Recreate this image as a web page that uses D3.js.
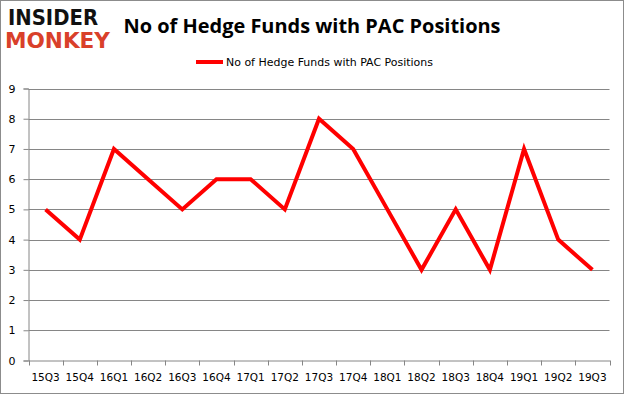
<!DOCTYPE html>
<html><head><meta charset="utf-8">
<script src="https://cdn.jsdelivr.net/npm/d3@7/dist/d3.min.js"></script>
<style>html,body{margin:0;padding:0;background:#fff;}svg{display:block;}</style>
</head><body>
<svg id="c" width="625" height="395"></svg>
<script>
const categories = ["15Q3","15Q4","16Q1","16Q2","16Q3","16Q4","17Q1","17Q2","17Q3","17Q4","18Q1","18Q2","18Q3","18Q4","19Q1","19Q2","19Q3"];
const hedgeFunds = [5,4,7,6,5,6,6,5,8,7,5,3,5,3,7,4,3];
const yTicks = [0,1,2,3,4,5,6,7,8,9];
const titleText = "No of Hedge Funds with PAC Positions";
const seriesName = "No of Hedge Funds with PAC Positions";

const svg = d3.select("#c");
const W = 625, H = 395;
const m = {left: 28.5, right: 609.5, top: 88.5, bottom: 360.5};

svg.append("rect").attr("x",0.5).attr("y",0.5).attr("width",W-2).attr("height",H-2)
  .attr("fill","#fff").attr("stroke","#8c8c8c").attr("stroke-width",1);

const x = d3.scaleBand().domain(categories).range([m.left, m.right]).padding(0);
const y = d3.scaleLinear().domain([0,9]).range([m.bottom, m.top]);

// gridlines
svg.append("g").selectAll("line").data(yTicks.filter(d=>d>0)).join("line")
  .attr("x1", m.left).attr("x2", m.right)
  .attr("y1", d=>Math.round(y(d))+0.5).attr("y2", d=>Math.round(y(d))+0.5)
  .attr("stroke","#868686").attr("stroke-width",1);

// y axis
const yAxis = svg.append("g").attr("transform",`translate(${m.left},0)`)
  .call(d3.axisLeft(y).tickValues(yTicks).tickSize(5).tickPadding(8).tickFormat(d3.format("d")));
yAxis.select(".domain").attr("stroke","#868686");
yAxis.selectAll(".tick line").attr("stroke","#868686");
yAxis.selectAll("text").attr("font-family","DejaVu Sans, sans-serif").attr("font-size",11).attr("fill","#000");

// x axis
const xAxis = svg.append("g").attr("transform",`translate(0,${m.bottom})`)
  .call(d3.axisBottom(x).tickSize(0).tickPadding(13));
xAxis.select(".domain").attr("stroke","#868686");
xAxis.selectAll("text").attr("font-family","DejaVu Sans, sans-serif").attr("font-size",10.5).attr("fill","#000");
// boundary ticks
const bounds = categories.map(c=>x(c)).concat([m.right]);
svg.append("g").selectAll("line").data(bounds).join("line")
  .attr("x1", d=>Math.round(d)+0.5).attr("x2", d=>Math.round(d)+0.5)
  .attr("y1", m.bottom).attr("y2", m.bottom+5)
  .attr("stroke","#868686");

// line
const line = d3.line().x((d,i)=>x(categories[i])+x.bandwidth()/2).y(d=>y(d));
svg.append("path").datum(hedgeFunds).attr("d",line)
  .attr("fill","none").attr("stroke","#ff0000").attr("stroke-width",4).attr("stroke-linejoin","miter");

// title
svg.append("text").attr("x",312).attr("y",33).attr("text-anchor","middle")
  .attr("font-family","Open Sans, sans-serif").attr("font-weight","bold").attr("font-size",20)
  .attr("textLength",377).attr("lengthAdjust","spacingAndGlyphs")
  .attr("fill","#000").text(titleText);

// legend
svg.append("line").attr("x1",196).attr("x2",223).attr("y1",62).attr("y2",62)
  .attr("stroke","#ff0000").attr("stroke-width",4);
svg.append("text").attr("x",226).attr("y",66).attr("font-family","DejaVu Sans, sans-serif")
  .attr("font-size",11).attr("textLength",207).attr("lengthAdjust","spacingAndGlyphs")
  .attr("fill","#000").text(seriesName);

// logo
svg.append("text").attr("x",8).attr("y",25).attr("font-family","DejaVu Sans, sans-serif")
  .attr("font-weight","bold").attr("font-size",22).attr("textLength",90).attr("lengthAdjust","spacingAndGlyphs")
  .attr("fill","#111").text("INSIDER");
svg.append("text").attr("x",5).attr("y",48).attr("font-family","DejaVu Sans, sans-serif")
  .attr("font-weight","bold").attr("font-size",22).attr("textLength",105).attr("lengthAdjust","spacingAndGlyphs")
  .attr("fill","#d9402a").text("MONKEY");
</script>
</body></html>
